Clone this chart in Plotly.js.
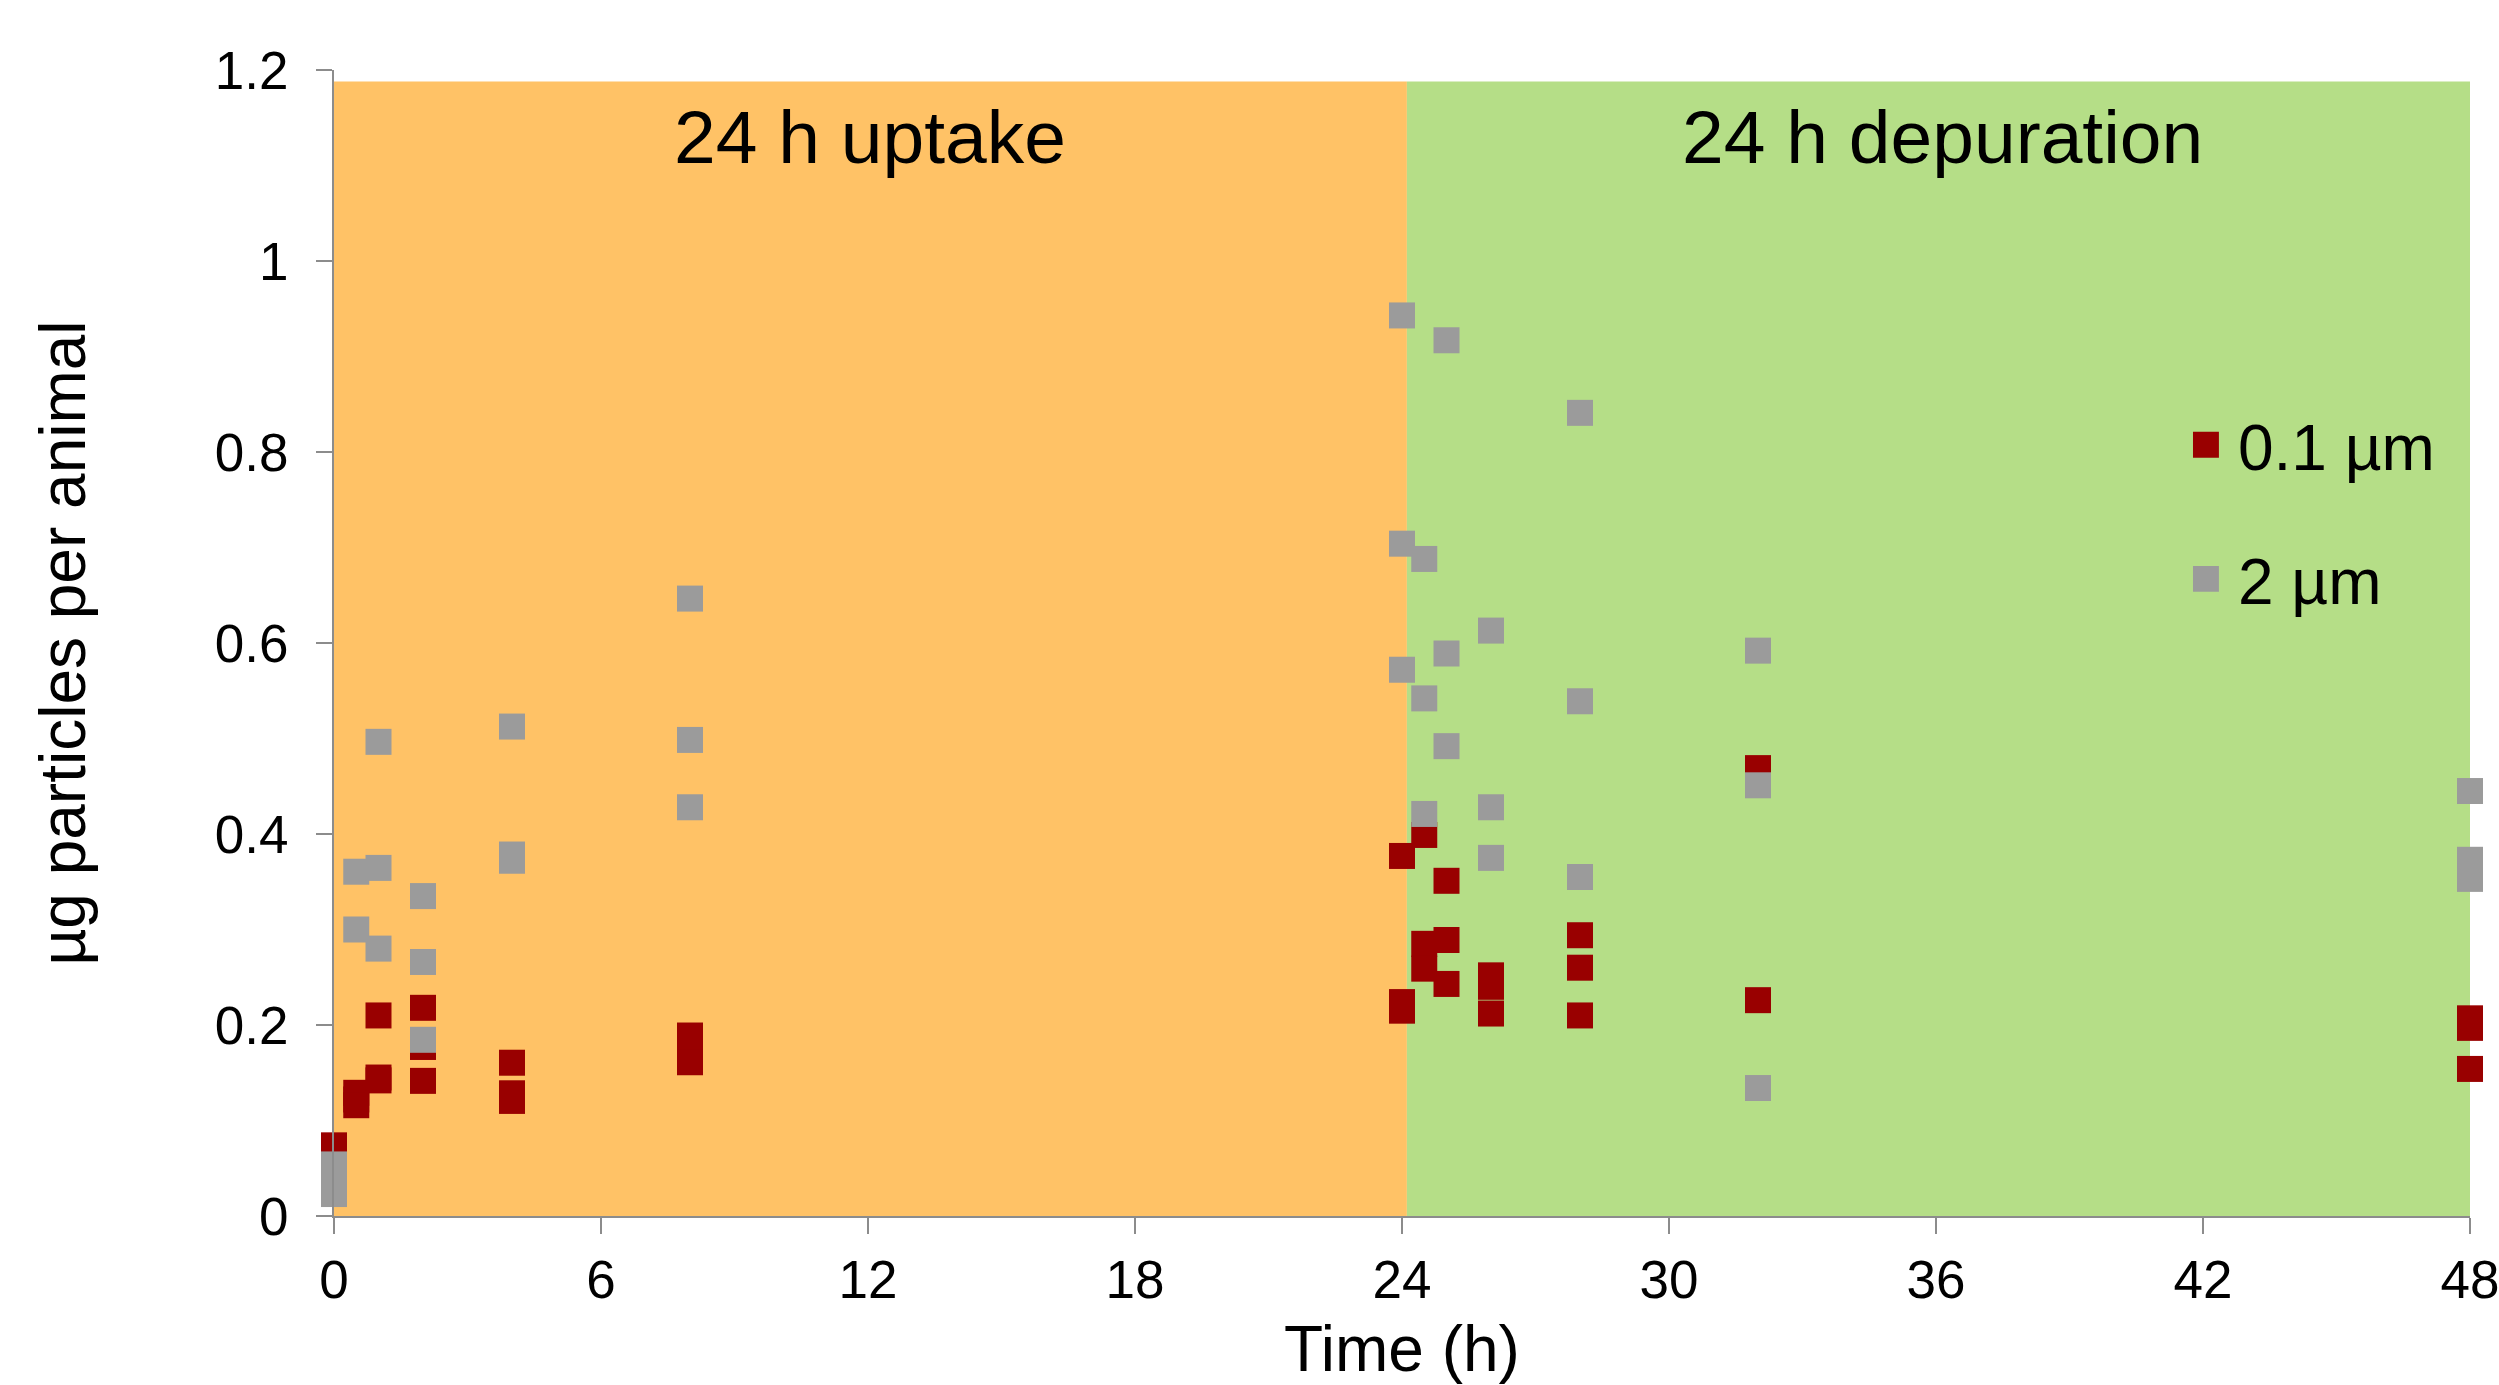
<!DOCTYPE html>
<html>
<head>
<meta charset="utf-8">
<script src="https://cdn.plot.ly/plotly-3.0.1.min.js"></script>
<style>html,body{margin:0;padding:0;background:#fff;}#chart{width:2499px;height:1385px;}</style>
</head>
<body>
<div id="chart"></div>
<script>
// Time (h) and values (µg particles per animal) for each series
var redX = [0, 0, 0, 0.5, 0.5, 0.5, 1, 1, 1, 2, 2, 2, 4, 4, 4, 8, 8, 8,
            24, 24, 24, 24.5, 24.5, 24.5, 25, 25, 25, 26, 26, 26, 28, 28, 28, 32, 32, 48, 48, 48];
var redY = [0.074, 0.06, 0.045, 0.129, 0.122, 0.116, 0.21, 0.145, 0.142, 0.218, 0.177, 0.1415,
            0.1605, 0.1285, 0.1205, 0.189, 0.175, 0.161,
            0.377, 0.224, 0.215, 0.399, 0.285, 0.259, 0.351, 0.289, 0.243,
            0.252, 0.24, 0.212, 0.294, 0.26, 0.21, 0.469, 0.226, 0.207, 0.197, 0.154];
var grayX = [0, 0, 0, 0.5, 0.5, 1, 1, 1, 2, 2, 2, 4, 4, 4, 8, 8, 8,
             24, 24, 24, 24.5, 24.5, 24.5, 25, 25, 25, 26, 26, 26, 28, 28, 28, 32, 32, 32, 48, 48, 48];
var grayY = [0.054, 0.0385, 0.023, 0.3605, 0.30, 0.4965, 0.3645, 0.28, 0.335, 0.266, 0.1845,
             0.5125, 0.3785, 0.372, 0.6465, 0.4985, 0.428,
             0.943, 0.704, 0.572, 0.688, 0.542, 0.421, 0.917, 0.589, 0.492,
             0.613, 0.428, 0.375, 0.841, 0.539, 0.355, 0.592, 0.451, 0.134, 0.445, 0.373, 0.353];
var seriesNames = ['0.1 µm', '2 µm'];
var xTicks = [0, 6, 12, 18, 24, 30, 36, 42, 48];
var yTicks = [0, 0.2, 0.4, 0.6, 0.8, 1, 1.2];
var yTickText = ['0', '0.2', '0.4', '0.6', '0.8', '1', '1.2'];
var phaseLabels = ['24 h uptake', '24 h depuration'];
var phaseBounds = [0, 24.11, 48.2];
var phaseTop = 1.188;

var FONT = 'Liberation Sans, Arial, sans-serif';
var AXC = '#8c8c8c';

var traces = [
  {x: redX, y: redY, name: seriesNames[0], type: 'scatter', mode: 'markers', cliponaxis: false,
   legendgroup: 'a', marker: {symbol: 'square', size: 26, color: '#990000', line: {width: 0}}},
  {x: grayX, y: grayY, name: seriesNames[1], type: 'scatter', mode: 'markers', cliponaxis: false,
   legendgroup: 'b', marker: {symbol: 'square', size: 26, color: '#9b9b9b', line: {width: 0}}}
];

var layout = {
  width: 2499, height: 1385,
  margin: {l: 334, r: 29, t: 70, b: 169, pad: 0},
  paper_bgcolor: '#ffffff', plot_bgcolor: '#ffffff',
  font: {family: FONT, color: '#000000', size: 53},
  showlegend: true,
  legend: {x: 0.8614, xanchor: 'left', y: 0.715, yanchor: 'top', bgcolor: 'rgba(0,0,0,0)',
           font: {size: 64, family: FONT}, traceorder: 'grouped', tracegroupgap: 48, itemwidth: 54},
  xaxis: {range: [0, 48], tickvals: xTicks, ticktext: xTicks.map(String), ticks: 'outside', ticklen: 16,
          tickwidth: 2, tickcolor: AXC, showline: true, linecolor: AXC, linewidth: 2,
          showgrid: false, zeroline: false, ticklabelstandoff: 0, ticklabeloverflow: 'allow',
          tickfont: {size: 53, family: FONT},
          title: {text: 'Time (h)', font: {size: 64, family: FONT}, standoff: 43}, automargin: false},
  yaxis: {range: [0, 1.2], tickvals: yTicks, ticktext: yTickText, ticks: 'outside', ticklen: 16,
          tickwidth: 2, tickcolor: AXC, showline: true, linecolor: AXC, linewidth: 2,
          showgrid: false, zeroline: false, ticklabelstandoff: 17,
          tickfont: {size: 53, family: FONT},
          title: {text: 'µg particles per animal', font: {size: 64, family: FONT}, standoff: 108}, automargin: false},
  shapes: [
    {type: 'rect', xref: 'x', yref: 'y', x0: phaseBounds[0], x1: phaseBounds[1], y0: 0, y1: phaseTop,
     fillcolor: '#ffc266', line: {width: 0}, layer: 'below'},
    {type: 'rect', xref: 'x', yref: 'y', x0: phaseBounds[1], x1: phaseBounds[2], y0: 0, y1: phaseTop,
     fillcolor: '#b5de87', line: {width: 0}, layer: 'below'}
  ],
  annotations: [
    {xref: 'x', yref: 'y', x: (phaseBounds[0] + phaseBounds[1]) / 2, y: 1.13, text: phaseLabels[0],
     showarrow: false, font: {size: 75, family: FONT, color: '#000'}, xanchor: 'center', yanchor: 'middle'},
    {xref: 'x', yref: 'y', x: (phaseBounds[1] + phaseBounds[2]) / 2, y: 1.13, text: phaseLabels[1],
     showarrow: false, font: {size: 75, family: FONT, color: '#000'}, xanchor: 'center', yanchor: 'middle'}
  ]
};

Plotly.newPlot('chart', traces, layout, {displayModeBar: false, staticPlot: true}).then(function (gd) {
  var pts = gd.querySelectorAll('.legend .legendpoints path');
  pts.forEach(function (p) {
    var t = p.getAttribute('transform') || '';
    p.setAttribute('transform', t + ' scale(1.62)');
  });
});
</script>
</body>
</html>
